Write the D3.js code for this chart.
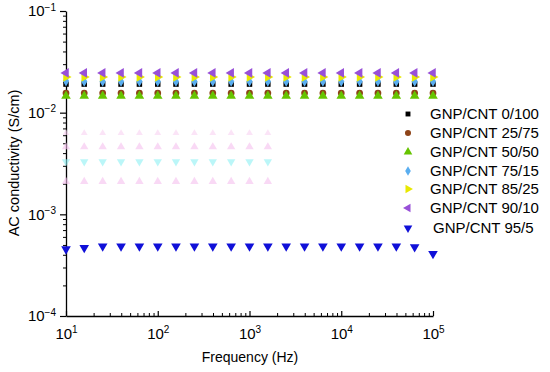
<!DOCTYPE html>
<html>
<head>
<meta charset="utf-8">
<script src="https://cdn.jsdelivr.net/npm/d3@7"></script>
<style>
  body { margin: 0; background: #fff; }
  text { font-family: Arial, "Liberation Sans", sans-serif; }
</style>
</head>
<body>
<div id="chart"></div>
<script>
// frequencies (Hz)
const freqs = [10, 15.8, 25.1, 39.8, 63.1, 100, 158, 251, 398, 631, 1000, 1585, 2512, 3981, 6310, 10000, 15849, 25119, 39811, 63096, 100000];

const seriesNames = ["GNP/CNT 0/100", "GNP/CNT 25/75", "GNP/CNT 50/50", "GNP/CNT 75/15", "GNP/CNT 85/25", "GNP/CNT 90/10", "GNP/CNT 95/5"];

const s0_100 = [0.0191, 0.0191, 0.0191, 0.0191, 0.0191, 0.0191, 0.0191, 0.0191, 0.0191, 0.0191, 0.0191, 0.0191, 0.0191, 0.0191, 0.0191, 0.0191, 0.0191, 0.0191, 0.0191, 0.0191, 0.0191];
const s25_75 = [0.0156, 0.0156, 0.0156, 0.0156, 0.0156, 0.0156, 0.0156, 0.0156, 0.0156, 0.0156, 0.0156, 0.0156, 0.0156, 0.0156, 0.0156, 0.0156, 0.0156, 0.0156, 0.0156, 0.0156, 0.0156];
const s50_50 = [0.0146, 0.0146, 0.0146, 0.0146, 0.0146, 0.0146, 0.0146, 0.0146, 0.0146, 0.0146, 0.0146, 0.0146, 0.0146, 0.0146, 0.0146, 0.0146, 0.0146, 0.0146, 0.0146, 0.0146, 0.0146];
const s75_15 = [0.0205, 0.0203, 0.0203, 0.0203, 0.0203, 0.0203, 0.0203, 0.0203, 0.0203, 0.0203, 0.0203, 0.0203, 0.0203, 0.0203, 0.0203, 0.0203, 0.0203, 0.0203, 0.0203, 0.0203, 0.0203];
const s85_25 = [0.0224, 0.0224, 0.0224, 0.0224, 0.0224, 0.0224, 0.0224, 0.0224, 0.0224, 0.0224, 0.0224, 0.0224, 0.0224, 0.0224, 0.0224, 0.0224, 0.0224, 0.0224, 0.0224, 0.0224, 0.0224];
const s90_10 = [0.0246, 0.0246, 0.0246, 0.0246, 0.0246, 0.0246, 0.0246, 0.0246, 0.0246, 0.0246, 0.0246, 0.0246, 0.0246, 0.0246, 0.0246, 0.0246, 0.0246, 0.0246, 0.0246, 0.0246, 0.0246];
const s95_5 = [0.000455, 0.00047, 0.000485, 0.000485, 0.000485, 0.000485, 0.000485, 0.000485, 0.000485, 0.000485, 0.000485, 0.000485, 0.000485, 0.000485, 0.000485, 0.000485, 0.000485, 0.000485, 0.000485, 0.000478, 0.000410];

// faint leftover marks between 1e-3 and 1e-2 (first 12 frequencies)
const ghostRow1 = [0.0063, 0.0063, 0.0063, 0.0063, 0.0063, 0.0063, 0.0063, 0.0063, 0.0063, 0.0063, 0.0063, 0.0063];
const ghostRow2 = [0.0046, 0.0046, 0.0046, 0.0046, 0.0046, 0.0046, 0.0046, 0.0046, 0.0046, 0.0046, 0.0046, 0.0046];
const ghostRow3 = [0.0033, 0.0033, 0.0033, 0.0033, 0.0033, 0.0033, 0.0033, 0.0033, 0.0033, 0.0033, 0.0033, 0.0033];
const ghostRow4 = [0.0021, 0.0021, 0.0021, 0.0021, 0.0021, 0.0021, 0.0021, 0.0021, 0.0021, 0.0021, 0.0021, 0.0021];

const xTicks = [10, 100, 1000, 10000, 100000];
const xTickExp = ["1", "2", "3", "4", "5"];
const yTicks = [0.0001, 0.001, 0.01, 0.1];
const yTickExp = ["\u22124", "\u22123", "\u22122", "\u22121"];

const W = 550, H = 372;
const svg = d3.select("#chart").append("svg").attr("width", W).attr("height", H);

const xScale = d3.scaleLog().domain([10, 100000]).range([66, 433]);
const yScale = d3.scaleLog().domain([0.0001, 0.1]).range([316, 11]);

// minor tick values
let xMinor = [];
xTicks.slice(0, -1).forEach(t => { for (let m = 2; m < 10; m++) xMinor.push(t * m); });
let yMinor = [];
yTicks.slice(0, -1).forEach(t => { for (let m = 2; m < 10; m++) yMinor.push(t * m); });

// x axis: ticks inside
svg.append("g")
    .attr("transform", "translate(0,316)")
    .call(d3.axisBottom(xScale).tickValues(xMinor).tickSize(-3).tickFormat(""))
    .call(g => g.select(".domain").remove());
const xAxis = svg.append("g")
    .attr("transform", "translate(0,316)")
    .call(d3.axisBottom(xScale).tickValues(xTicks).tickSizeInner(-5).tickSizeOuter(0).tickPadding(12));
xAxis.select(".domain").attr("stroke-width", 1.3);
xAxis.selectAll(".tick line").attr("stroke-width", 1.2);
xAxis.selectAll(".tick text")
    .attr("font-size", "15px").attr("fill", "#000")
    .each(function(d, i) {
        const t = d3.select(this).text("");
        t.append("tspan").text("10");
        t.append("tspan").attr("font-size", "10px").attr("dy", "-0.55em").text(xTickExp[i]);
    });

// y axis: ticks outside
svg.append("g")
    .attr("transform", "translate(66,0)")
    .call(d3.axisLeft(yScale).tickValues(yMinor).tickSize(3).tickFormat(""))
    .call(g => g.select(".domain").remove());
const yAxis = svg.append("g")
    .attr("transform", "translate(66,0)")
    .call(d3.axisLeft(yScale).tickValues(yTicks).tickSizeInner(6).tickSizeOuter(0).tickPadding(4));
yAxis.select(".domain").attr("stroke-width", 1.3);
yAxis.selectAll(".tick line").attr("stroke-width", 1.2);
yAxis.selectAll(".tick text")
    .attr("font-size", "15px").attr("fill", "#000")
    .each(function(d, i) {
        const t = d3.select(this).text("");
        t.append("tspan").text("10");
        t.append("tspan").attr("font-size", "10px").attr("dy", "-0.55em").text(yTickExp[i]);
    });

// axis titles
svg.append("text")
    .attr("x", 250)
    .attr("y", 362)
    .attr("text-anchor", "middle")
    .attr("font-size", "14px")
    .text("Frequency (Hz)");
svg.append("text")
    .attr("transform", "translate(19,163) rotate(-90)")
    .attr("text-anchor", "middle")
    .attr("font-size", "14.5px")
    .text("AC conductivity (S/cm)");

// faint ghost marks
const ghosts = [
    {vals: ghostRow1, sym: d3.symbolTriangle, size: 20, color: "#f8d2f2", rot: 0},
    {vals: ghostRow2, sym: d3.symbolTriangle, size: 30, color: "#f5c0ee", rot: 0},
    {vals: ghostRow3, sym: d3.symbolTriangle, size: 30, color: "#8ef0f4", rot: 180},
    {vals: ghostRow4, sym: d3.symbolTriangle, size: 30, color: "#f5c0ee", rot: 0}
];
ghosts.forEach(g => {
    svg.append("g").selectAll("path")
        .data(g.vals)
        .enter()
        .append("path")
        .attr("d", d3.symbol().type(g.sym).size(g.size))
        .attr("transform", (d, i) => `translate(${xScale(freqs[i])},${yScale(d)}) rotate(${g.rot})`)
        .attr("fill", g.color)
        .attr("opacity", 0.6);
});

// series
const series = [
    {name: seriesNames[0], vals: s0_100, sym: d3.symbolSquare, size: 30, color: "#000000", rot: 0},
    {name: seriesNames[1], vals: s25_75, sym: d3.symbolCircle, size: 36, color: "#8e4418", rot: 0},
    {name: seriesNames[2], vals: s50_50, sym: d3.symbolTriangle, size: 40, color: "#66c400", rot: 0},
    {name: seriesNames[3], vals: s75_15, sym: d3.symbolDiamond, size: 34, color: "#5aaef0", rot: 0},
    {name: seriesNames[4], vals: s85_25, sym: d3.symbolTriangle, size: 40, color: "#e8e800", rot: 90},
    {name: seriesNames[5], vals: s90_10, sym: d3.symbolTriangle, size: 40, color: "#9850d8", rot: -90},
    {name: seriesNames[6], vals: s95_5, sym: d3.symbolTriangle, size: 40, color: "#1010d8", rot: 180}
];

series.forEach(s => {
    svg.append("g").selectAll("path")
        .data(s.vals)
        .enter()
        .append("path")
        .attr("d", d3.symbol().type(s.sym).size(s.size))
        .attr("transform", (d, i) => `translate(${xScale(freqs[i])},${yScale(d)}) rotate(${s.rot})`)
        .attr("fill", s.color);
});

// legend
const legendY = [114, 133, 152, 171, 189, 208, 228];
series.forEach((s, i) => {
    svg.append("path")
        .attr("d", d3.symbol().type(s.sym).size(s.size * 0.8))
        .attr("transform", `translate(408,${legendY[i]}) rotate(${s.rot})`)
        .attr("fill", s.color);
    svg.append("text")
        .attr("x", i == 6 ? 433 : 430)
        .attr("y", legendY[i] + 5)
        .attr("font-size", "15px")
        .text(s.name);
});
</script>
</body>
</html>
